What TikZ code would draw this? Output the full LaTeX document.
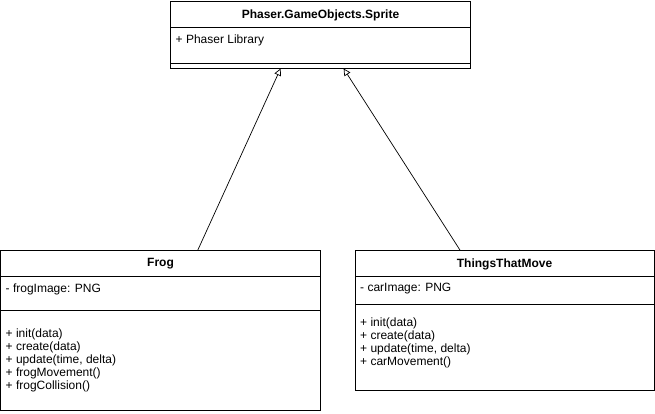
\documentclass[tikz,border=0pt]{standalone}
\usepackage{fontspec}
\setmainfont{Liberation Sans}
\usetikzlibrary{arrows.meta,calc}
\begin{document}
\begin{tikzpicture}[x=1pt,y=-1pt,
  classbox/.style={draw, line width=1pt, anchor=north west, inner sep=0pt, outer sep=0pt},
  sepline/.style={line width=1pt},
  classtitle/.style={font=\bfseries\fontsize{12}{13}\selectfont, inner sep=0pt},
  member/.style={font=\fontsize{12}{13}\selectfont, anchor=west, align=left, inner sep=0pt},
  inherit/.style={-{Triangle[open,length=7pt,width=7pt,fill=white]}, line width=0.7pt}]
\useasboundingbox (0,0) rectangle (655,414);

% Sprite
\node[classbox, minimum width=300pt, minimum height=67pt] (sprite) at (170.5,1.5) {};
\draw[sepline] ($(sprite.north west)+(0,26)$) -- ($(sprite.north east)+(0,26)$);
\draw[sepline] ($(sprite.north west)+(0,62)$) -- ($(sprite.north east)+(0,62)$);
\node[classtitle] (spritetitle) at ($(sprite.north)+(0,13.5)$) {Phaser.GameObjects.Sprite};
\node[member] (spriteattr) at ($(sprite.north west)+(5,39)$) {+ Phaser Library};

% Frog
\node[classbox, minimum width=320pt, minimum height=160pt] (frog) at (0.5,250.5) {};
\draw[sepline] ($(frog.north west)+(0,26)$) -- ($(frog.north east)+(0,26)$);
\draw[sepline] ($(frog.north west)+(0,60)$) -- ($(frog.north east)+(0,60)$);
\node[classtitle] (frogtitle) at ($(frog.north)+(0,13.5)$) {Frog};
\node[member] (frogattr) at ($(frog.north west)+(5,38.5)$) {- frogImage: PNG};
\node[member] (frogops) at ($(frog.north west)+(5,110)$) {+ init(data)\\+ create(data)\\+ update(time, delta)\\+ frogMovement()\\+ frogCollision()};

% ThingsThatMove
\node[classbox, minimum width=299pt, minimum height=140pt] (things) at (355,250.5) {};
\draw[sepline] ($(things.north west)+(0,26)$) -- ($(things.north east)+(0,26)$);
\draw[sepline] ($(things.north west)+(0,54)$) -- ($(things.north east)+(0,54)$);
\node[classtitle] (thingstitle) at ($(things.north)+(0,13.5)$) {ThingsThatMove};
\node[member] (thingsattr) at ($(things.north west)+(5,38.5)$) {- carImage: PNG};
\node[member] (thingsops) at ($(things.north west)+(5,92)$) {+ init(data)\\+ create(data)\\+ update(time, delta)\\+ carMovement()};

% Inheritance
\draw[inherit] ($(frog.north west)!0.616!(frog.north east)$) -- ($(sprite.south west)!0.367!(sprite.south east)$);
\draw[inherit] ($(things.north west)!0.352!(things.north east)$) -- ($(sprite.south west)!0.577!(sprite.south east)$);
\end{tikzpicture}
\end{document}
